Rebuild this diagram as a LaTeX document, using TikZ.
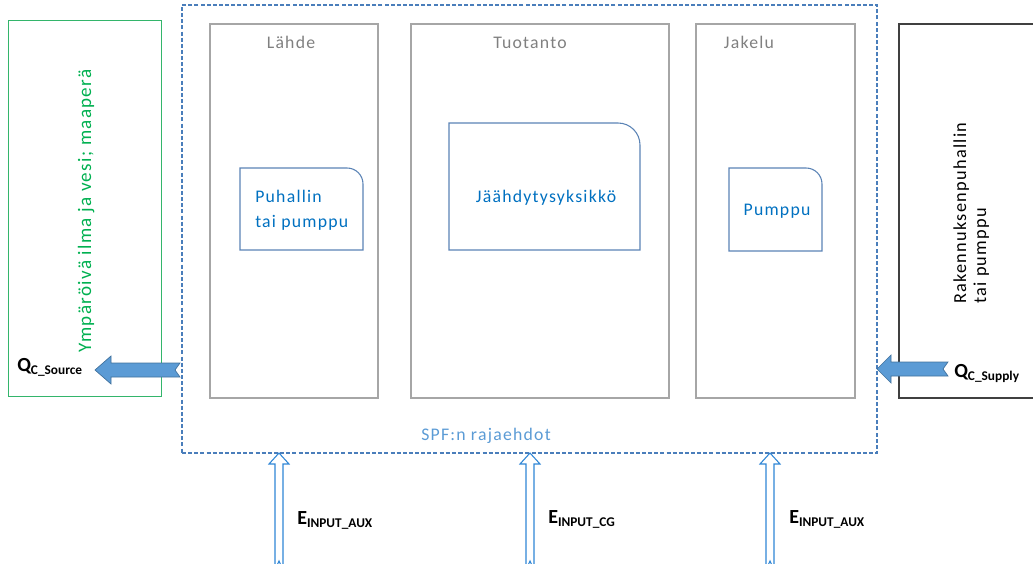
\documentclass[tikz,border=0pt]{standalone}
\usepackage{fontspec}
\setmainfont{Carlito}
\newfontfamily\spaced[LetterSpace=7]{Carlito}
\usetikzlibrary{fit}
\definecolor{grayline}{HTML}{A6A6A6}
\definecolor{graytext}{HTML}{808080}
\definecolor{dashblue}{HTML}{4A7EBB}
\definecolor{boxblue}{HTML}{5A83B5}
\definecolor{textblue}{HTML}{0070C0}
\definecolor{lightblue}{HTML}{5B9BD5}
\definecolor{grn}{HTML}{00B050}
\definecolor{grnline}{HTML}{33B56B}
\definecolor{arrowfill}{HTML}{5B9BD5}
\definecolor{arrowedge}{HTML}{41719C}
\definecolor{uparrow}{HTML}{2F86D6}
\definecolor{darkline}{HTML}{404040}
\tikzset{
  region/.style={draw=grayline, line width=0.8pt, inner sep=0pt},
  boundary/.style={draw=dashblue, line width=0.9pt, dash pattern=on 3pt off 1.6pt, inner sep=0pt},
  envbox/.style={draw=grnline, line width=0.6pt, inner sep=0pt},
  bldbox/.style={draw=darkline, line width=1.1pt, inner sep=0pt},
  unitbox/.style={draw=boxblue, line width=0.8pt},
  lbl/.style={inner sep=0pt, text=graytext, font=\spaced\fontsize{13.3}{15}\selectfont},
  unittxt/.style={inner sep=0pt, text=textblue, font=\spaced\fontsize{13.3}{18.75}\selectfont},
  sidetxt/.style={inner sep=0pt, font=\spaced\fontsize{13.7}{15}\selectfont},
  qlbl/.style={inner sep=0pt, font=\bfseries},
  flow/.style={fill=arrowfill, draw=arrowedge, line width=0.5pt},
  hollow/.style={fill=white, draw=uparrow, line width=0.8pt},
}
\newcommand{\bigsym}[1]{{\fontsize{15}{15}\selectfont #1}}
\newcommand{\subsym}[1]{\raisebox{-2.5pt}{\fontsize{10}{10}\selectfont #1}}
\begin{document}
\begin{tikzpicture}[x=0.75pt, y=-0.75pt]
\useasboundingbox (0,0) rectangle (1033,564);
% outer frames
\node[envbox, fit={(8,20) (161,396)}] (env) {};
\node[boundary, fit={(182,5) (877,453)}] (spf) {};
\node[bldbox, fit={(899,24) (1045,398)}] (bld) {};
% regions
\node[region, fit={(210,24) (378,398)}] (source) {};
\node[region, fit={(411,24) (669,398)}] (prod) {};
\node[region, fit={(696,24) (855,398)}] (dist) {};
\node[lbl, anchor=base] (lsource) at (291,48) {Lähde};
\node[lbl, anchor=base] (lprod) at (530,48) {Tuotanto};
\node[lbl, anchor=base] (ldist) at (749,48) {Jakelu};
% units with rounded top-right corner
\draw[unitbox] (240,250) -- (240,168) -- (347,168) arc(-90:0:16) -- (363,250) -- cycle;
\draw[unitbox] (449,250) -- (449,123) -- (618,123) arc(-90:0:22) -- (640,250) -- cycle;
\draw[unitbox] (729,251) -- (729,168) -- (806,168) arc(-90:0:16) -- (822,251) -- cycle;
\node[unittxt, anchor=base west, align=left] (fan) at (255,227) {Puhallin\\tai pumppu};
\node[unittxt, anchor=base] (chiller) at (546,202) {Jäähdytysyksikkö};
\node[unittxt, anchor=base] (pump) at (777,215) {Pumppu};
\node[inner sep=0pt, text=lightblue, font=\spaced\fontsize{13.3}{15}\selectfont, anchor=base] (spflbl) at (486,440) {SPF:n rajaehdot};
% side texts
\node[inner sep=0pt, text=grn, font=\spaced\fontsize{14.3}{15}\selectfont, rotate=90, anchor=base] (envtxt) at (91,211) {Ympäröivä ilma ja vesi; maaperä};
\node[sidetxt, rotate=90, anchor=base west, align=left] (bldtxt) at (986,304) {Rakennuksenpuhallin\\tai pumppu};
% heat flows
\draw[flow] (180,363) -- (111,363) -- (111,356) -- (95,370) -- (111,384) -- (111,377) -- (180,377) -- (175,370) -- cycle;
\draw[flow] (948,362) -- (891,362) -- (891,355) -- (877,369) -- (891,383) -- (891,376) -- (948,376) -- (943,369) -- cycle;
\node[qlbl, anchor=base west] (qsrc) at (17,371) {\bigsym{Q}\subsym{C\_Source}};
\node[qlbl, anchor=base west] (qsup) at (954,377) {\bigsym{Q}\subsym{C\_Supply}};
% energy inputs
\foreach \cx/\nm in {279/a, 530/b, 770/c}{
  \draw[hollow] (\cx,453) -- (\cx+10,464) -- (\cx+4,464) -- (\cx+4,570) -- (\cx,561) -- (\cx-4,570) -- (\cx-4,464) -- (\cx-10,464) -- cycle;
}
\node[qlbl, anchor=base west] (eaux1) at (297,524) {\bigsym{E}\subsym{INPUT\_AUX}};
\node[qlbl, anchor=base west] (ecg) at (548,523) {\bigsym{E}\subsym{INPUT\_CG}};
\node[qlbl, anchor=base west] (eaux2) at (789,523) {\bigsym{E}\subsym{INPUT\_AUX}};
\end{tikzpicture}
\end{document}
